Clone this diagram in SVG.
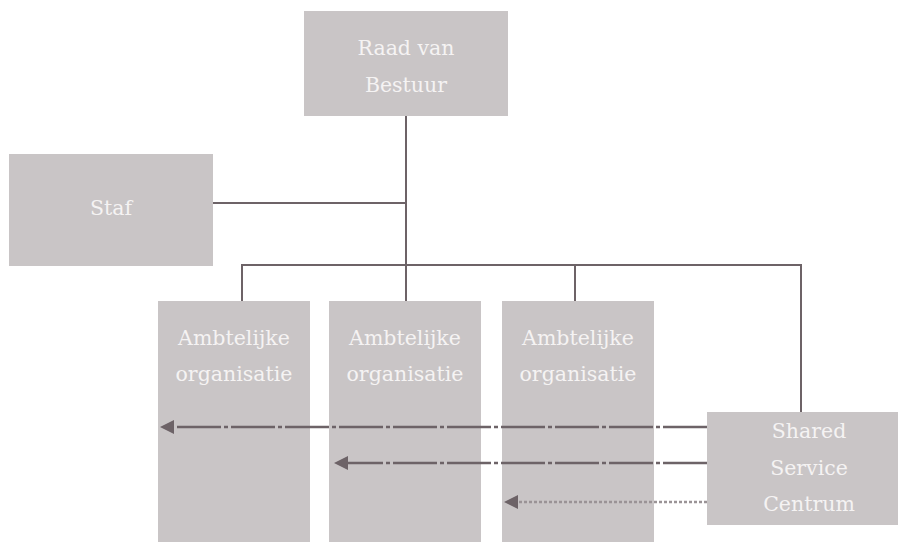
<svg xmlns="http://www.w3.org/2000/svg" width="898" height="542" viewBox="0 0 898 542">
<style>
.box{fill:#c9c5c6;}
.lbl{font-family:"DejaVu Serif","Liberation Serif",serif;font-size:20.5px;fill:#f5f3f3;text-anchor:middle;}
.ln{stroke:#6d6367;stroke-width:2;fill:none;}
.dd{stroke:#6d6367;stroke-width:2.4;fill:none;stroke-dasharray:44 3 4 3;}
.dt{stroke:#9a9396;stroke-width:2.4;fill:none;stroke-dasharray:3 2;}
</style>
<defs>
<marker id="ah" markerUnits="userSpaceOnUse" markerWidth="15" markerHeight="15" refX="0" refY="7" orient="auto-start-reverse" viewBox="0 0 15 15">
<path d="M0,7 L14,0 L14,14 z" fill="#6d6367"/>
</marker>
</defs>
<rect width="898" height="542" fill="#ffffff"/>
<g id="connectors">
<line class="ln" x1="406" y1="116" x2="406" y2="301"/>
<line class="ln" x1="213" y1="203" x2="406" y2="203"/>
<line class="ln" x1="241" y1="265" x2="802" y2="265"/>
<line class="ln" x1="242" y1="264" x2="242" y2="301"/>
<line class="ln" x1="575" y1="264" x2="575" y2="301"/>
<line class="ln" x1="801" y1="264" x2="801" y2="412"/>
</g>
<g id="raad"><rect class="box" x="304" y="11" width="204" height="105"/><text class="lbl" x="406" y="55">Raad van</text><text class="lbl" x="406" y="92">Bestuur</text></g>
<g id="staf"><rect class="box" x="9" y="154" width="204" height="112"/><text class="lbl" x="111" y="215">Staf</text></g>
<g id="ao1"><rect class="box" x="158" y="301" width="152" height="241"/><text class="lbl" x="234" y="345">Ambtelijke</text><text class="lbl" x="234" y="381">organisatie</text></g>
<g id="ao2"><rect class="box" x="329" y="301" width="152" height="241"/><text class="lbl" x="405" y="345">Ambtelijke</text><text class="lbl" x="405" y="381">organisatie</text></g>
<g id="ao3"><rect class="box" x="502" y="301" width="152" height="241"/><text class="lbl" x="578" y="345">Ambtelijke</text><text class="lbl" x="578" y="381">organisatie</text></g>
<g id="arrows">
<line class="dd" x1="707" y1="427" x2="174" y2="427"/>
<path d="M160,427 L174,420 L174,434 z" fill="#6d6367"/>
<line class="dd" x1="707" y1="463" x2="348" y2="463"/>
<path d="M334,463 L348,456 L348,470 z" fill="#6d6367"/>
<line class="dt" x1="707" y1="502" x2="518" y2="502"/>
<path d="M504,502 L518,495 L518,509 z" fill="#6d6367"/>
</g>
<g id="ssc"><rect class="box" x="707" y="412" width="191" height="113"/><text class="lbl" x="809" y="438">Shared</text><text class="lbl" x="809" y="475">Service</text><text class="lbl" x="809" y="511">Centrum</text></g>
</svg>
